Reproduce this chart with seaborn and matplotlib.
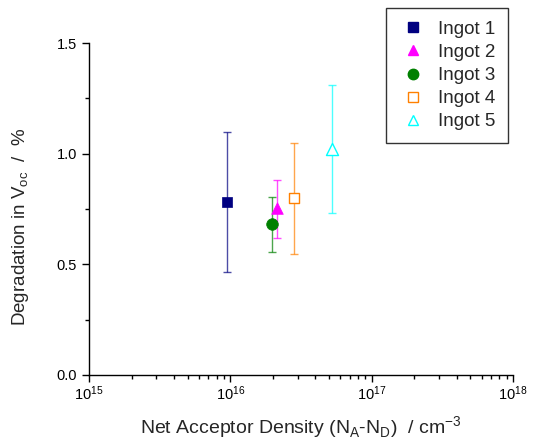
import matplotlib
matplotlib.use("Agg")
import matplotlib.pyplot as plt
import matplotlib.ticker as mticker
import numpy as np
import pandas as pd
import seaborn as sns

# Measured LID degradation of Voc versus net doping for each ingot
ingots = ["Ingot 1", "Ingot 2", "Ingot 3", "Ingot 4", "Ingot 5"]
density = [9.4e15, 2.15e16, 1.98e16, 2.8e16, 5.25e16]
degradation = [0.783, 0.755, 0.682, 0.80, 1.022]
err_low = [0.467, 0.619, 0.557, 0.547, 0.730]
err_high = [1.097, 0.880, 0.806, 1.050, 1.310]

colors = ["#000080", "#ff00ff", "#008000", "#ff8000", "#00ffff"]
markers = ["s", "^", "o", "s", "^"]
filled = [True, True, True, False, False]
msizes = [55, 70, 70, 60, 75]

df = pd.DataFrame({"ingot": ingots, "density": density, "deg": degradation,
                   "lo": err_low, "hi": err_high})

sns.set_style("ticks")
plt.rcParams["font.family"] = ["Liberation Sans", "DejaVu Sans"]

fig = plt.figure(figsize=(5.33, 4.42), dpi=100)
ax = fig.add_axes([0.167, 0.1516, 0.7955, 0.7511])

handles = []
for i, row in df.iterrows():
    ax.errorbar(row["density"], row["deg"],
                yerr=[[row["deg"] - row["lo"]], [row["hi"] - row["deg"]]],
                fmt="none", ecolor=colors[i], elinewidth=1.0, capsize=3,
                capthick=1.0, alpha=0.7, zorder=2)
    sub = df.iloc[[i]]
    if filled[i]:
        sns.scatterplot(data=sub, x="density", y="deg", ax=ax, marker=markers[i],
                        s=msizes[i], color=colors[i], edgecolor=colors[i],
                        linewidth=0.5, zorder=3, legend=False)
    else:
        sns.scatterplot(data=sub, x="density", y="deg", ax=ax, marker=markers[i],
                        s=msizes[i], facecolor="white", edgecolor=colors[i],
                        linewidth=1.0, zorder=3, legend=False)
    handles.append(plt.Line2D([], [], linestyle="none", marker=markers[i],
                              markersize=7 if markers[i] != "o" else 7.5,
                              markerfacecolor=colors[i] if filled[i] else "white",
                              markeredgecolor=colors[i], markeredgewidth=1.0,
                              label=row["ingot"]))

ax.set_xscale("log")
ax.set_xlim(1e15, 1e18)
ax.set_ylim(0, 1.5)
ax.xaxis.set_major_locator(mticker.LogLocator(base=10, numticks=10))
ax.xaxis.set_minor_locator(mticker.LogLocator(base=10, subs=np.arange(2, 10), numticks=20))
ax.xaxis.set_minor_formatter(mticker.NullFormatter())
ax.yaxis.set_major_locator(mticker.MultipleLocator(0.5))
ax.yaxis.set_minor_locator(mticker.MultipleLocator(0.25))
ax.yaxis.set_major_formatter(mticker.FormatStrFormatter("%.1f"))

for s in ["top", "right"]:
    ax.spines[s].set_visible(False)
for s in ["left", "bottom"]:
    ax.spines[s].set_color("black")
    ax.spines[s].set_linewidth(1.0)

ax.tick_params(axis="both", which="major", direction="out", length=5, width=1,
               labelsize=10.5, colors="black")
ax.tick_params(axis="x", which="major", pad=2)
ax.tick_params(axis="both", which="minor", direction="out", length=3, width=1,
               colors="black")

ax.set_xlabel(r"Net Acceptor Density (N$_{\mathregular{A}}$-N$_{\mathregular{D}}$)  / cm$^{\mathregular{-3}}$",
              fontsize=14, labelpad=8)
ax.set_ylabel(r"Degradation in V$_{\mathregular{oc}}$  /  %", fontsize=13.5)
ax.yaxis.set_label_coords(-0.137, 0.446)

leg = fig.legend(handles=handles, loc="upper left",
                 bbox_to_anchor=(386 / 533, 1 - 8 / 442), fontsize=13.5,
                 frameon=True, fancybox=False, edgecolor="black",
                 handletextpad=0.6, borderpad=0.68, labelspacing=0.32,
                 handlelength=1.5, borderaxespad=0)
leg.get_frame().set_linewidth(1.0)

fig.savefig("out.png", dpi=100)
